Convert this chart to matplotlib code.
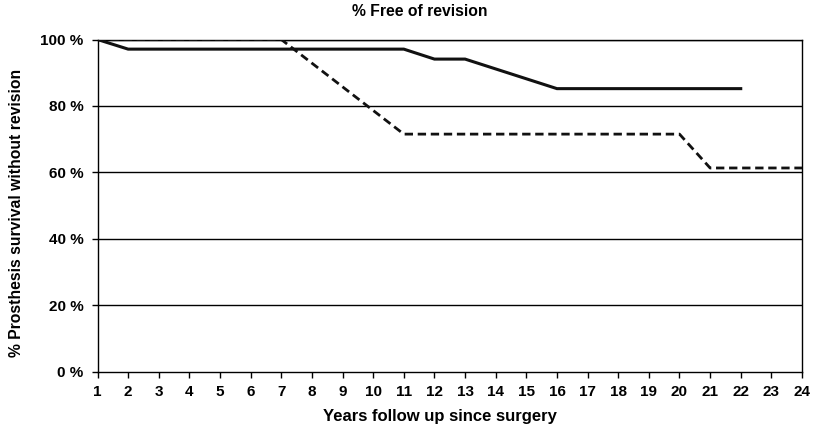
import matplotlib
matplotlib.use("Agg")
import matplotlib.pyplot as plt
from matplotlib.ticker import FuncFormatter

plt.rcParams['font.family'] = ['Liberation Sans', 'DejaVu Sans']

# Survival free of revision (%) by year of follow-up
years_solid = [1, 2, 11, 12, 13, 16, 22]
survival_solid = [100, 97.1, 97.1, 94.1, 94.1, 85.2, 85.2]

years_dashed = [1, 7, 11, 20, 21, 24]
survival_dashed = [100, 100, 71.5, 71.5, 61.3, 61.3]

x_ticks = list(range(1, 25))
y_ticks = [0, 20, 40, 60, 80, 100]

W, H = 816, 433
fig = plt.figure(figsize=(W / 100, H / 100), dpi=100)
left, right, top, bottom = 97.5, 802, 39.5, 371.5
ax = fig.add_axes([left / W, 1 - bottom / H, (right - left) / W, (bottom - top) / H])

for y in y_ticks[1:]:
    ax.axhline(y, color='black', lw=1.0, zorder=1)

ax.plot(years_solid, survival_solid, color='#111111', lw=2.2, zorder=3,
        solid_joinstyle='miter')
ax.plot(years_dashed, survival_dashed, color='#111111', lw=2.0, zorder=3,
        linestyle=(0, (3, 1.7)))

ax.set_xlim(1, 24)
ax.set_ylim(0, 100)
ax.set_xticks(x_ticks)
ax.set_yticks(y_ticks)
ax.yaxis.set_major_formatter(FuncFormatter(lambda v, p: f"{int(v)} %"))
ax.tick_params(axis='both', direction='out', length=4, width=1, colors='black',
               labelsize=11)
ax.tick_params(axis='x', pad=6)
ax.tick_params(axis='y', pad=6)
for lbl in ax.get_xticklabels() + ax.get_yticklabels():
    lbl.set_fontweight('bold')

for s in ax.spines.values():
    s.set_color('black')
    s.set_linewidth(1.0)

fig.text(420 / W, 1 - 12 / H, '% Free of revision', fontsize=11.3,
         fontweight='bold', ha='center', va='center')
fig.text(440 / W, 1 - 416 / H, 'Years follow up since surgery', fontsize=12,
         fontweight='bold', ha='center', va='center')
fig.text(17 / W, 1 - 213 / H, '% Prosthesis survival without revision',
         fontsize=11.3, fontweight='bold', ha='center', va='center',
         rotation=90)

fig.savefig('out.png', dpi=100, facecolor='white')
